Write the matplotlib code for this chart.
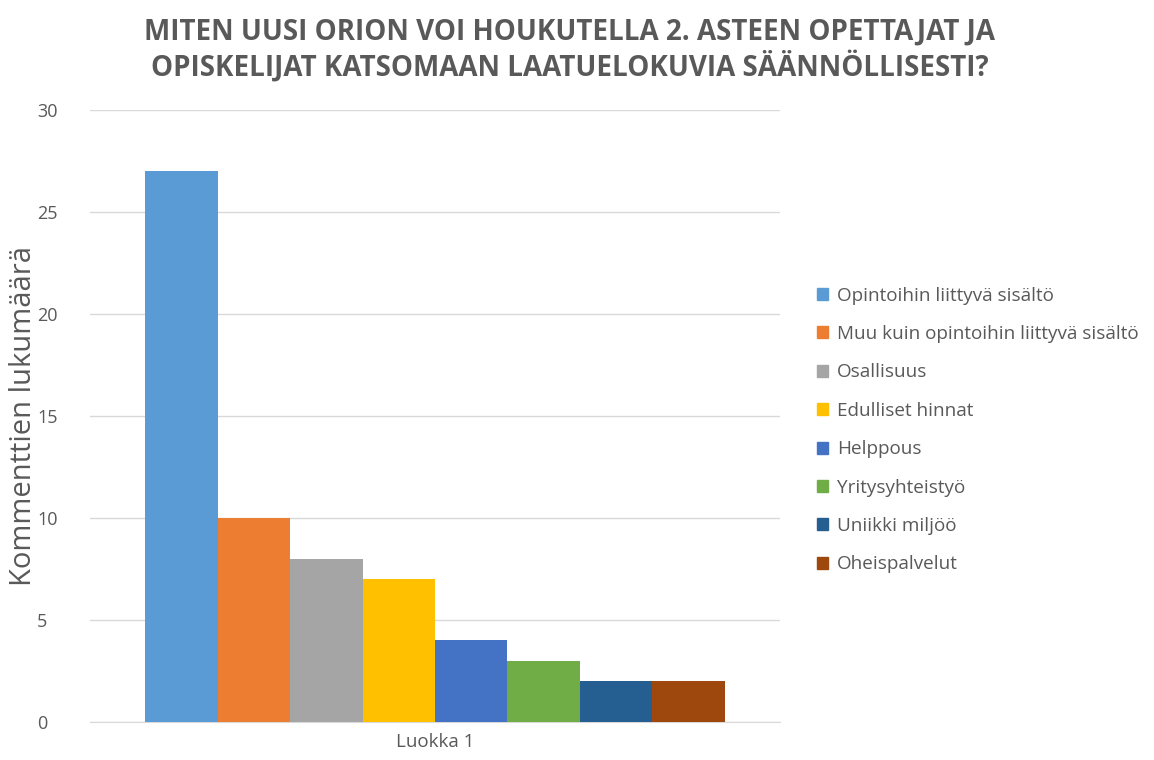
import matplotlib
matplotlib.use("Agg")
import matplotlib.pyplot as plt
from matplotlib.patches import Patch

title = "MITEN UUSI ORION VOI HOUKUTELLA 2. ASTEEN OPETTAJAT JA\nOPISKELIJAT KATSOMAAN LAATUELOKUVIA SÄÄNNÖLLISESTI?"
category = "Luokka 1"
series = ["Opintoihin liittyvä sisältö", "Muu kuin opintoihin liittyvä sisältö",
          "Osallisuus", "Edulliset hinnat", "Helppous", "Yritysyhteistyö",
          "Uniikki miljöö", "Oheispalvelut"]
values = [27, 10, 8, 7, 4, 3, 2, 2]
colors = ["#5B9BD5", "#ED7D31", "#A5A5A5", "#FFC000", "#4472C4", "#70AD47",
          "#255E91", "#9E480E"]
yticks = [0, 5, 10, 15, 20, 25, 30]

plt.rcParams['font.family'] = ['Open Sans', 'DejaVu Sans']
txt = "#595959"

fig = plt.figure(figsize=(11.54, 7.6), dpi=100)
ax = fig.add_axes([90/1154, 1-722/760, 690/1154, 612/760])

n = len(values)
group = 0.84
w = group / n
for i, (v, c) in enumerate(zip(values, colors)):
    x = -group/2 + w*(i+0.5)
    ax.bar(x, v, width=w, color=c, label=series[i], zorder=3)

ax.set_xlim(-0.5, 0.5)
ax.set_ylim(0, 30)
ax.set_yticks(yticks)
ax.set_xticks([0])
ax.set_xticklabels([category])
ax.tick_params(axis='x', length=0, colors=txt, labelsize=13.5, pad=8)
ax.tick_params(axis='y', length=0, colors=txt, labelsize=13, pad=38)
ax.grid(axis='y', color="#D9D9D9", linewidth=1, zorder=0)
for s in ["top", "right", "left"]:
    ax.spines[s].set_visible(False)
ax.spines["bottom"].set_color("#D9D9D9")
ax.set_ylabel("Kommenttien lukumäärä", fontsize=21, color=txt)
for lab in ax.get_yticklabels():
    lab.set_horizontalalignment('left')
ax.yaxis.set_label_coords(-52/690, 0.5)

fig.text(570/1154, 1-50/760, title, ha='center', va='center', fontsize=20,
         fontweight='bold', color=txt, linespacing=1.2)

handles = [Patch(color=c, label=s) for s, c in zip(series, colors)]
fig.legend(handles=handles, loc='center left', bbox_to_anchor=(800/1154, 1-430/760),
           frameon=False, fontsize=13.6, labelcolor=txt, handlelength=0.6,
           handleheight=0.6, handletextpad=0.45, labelspacing=1.08)

fig.savefig("out.png", dpi=100)
